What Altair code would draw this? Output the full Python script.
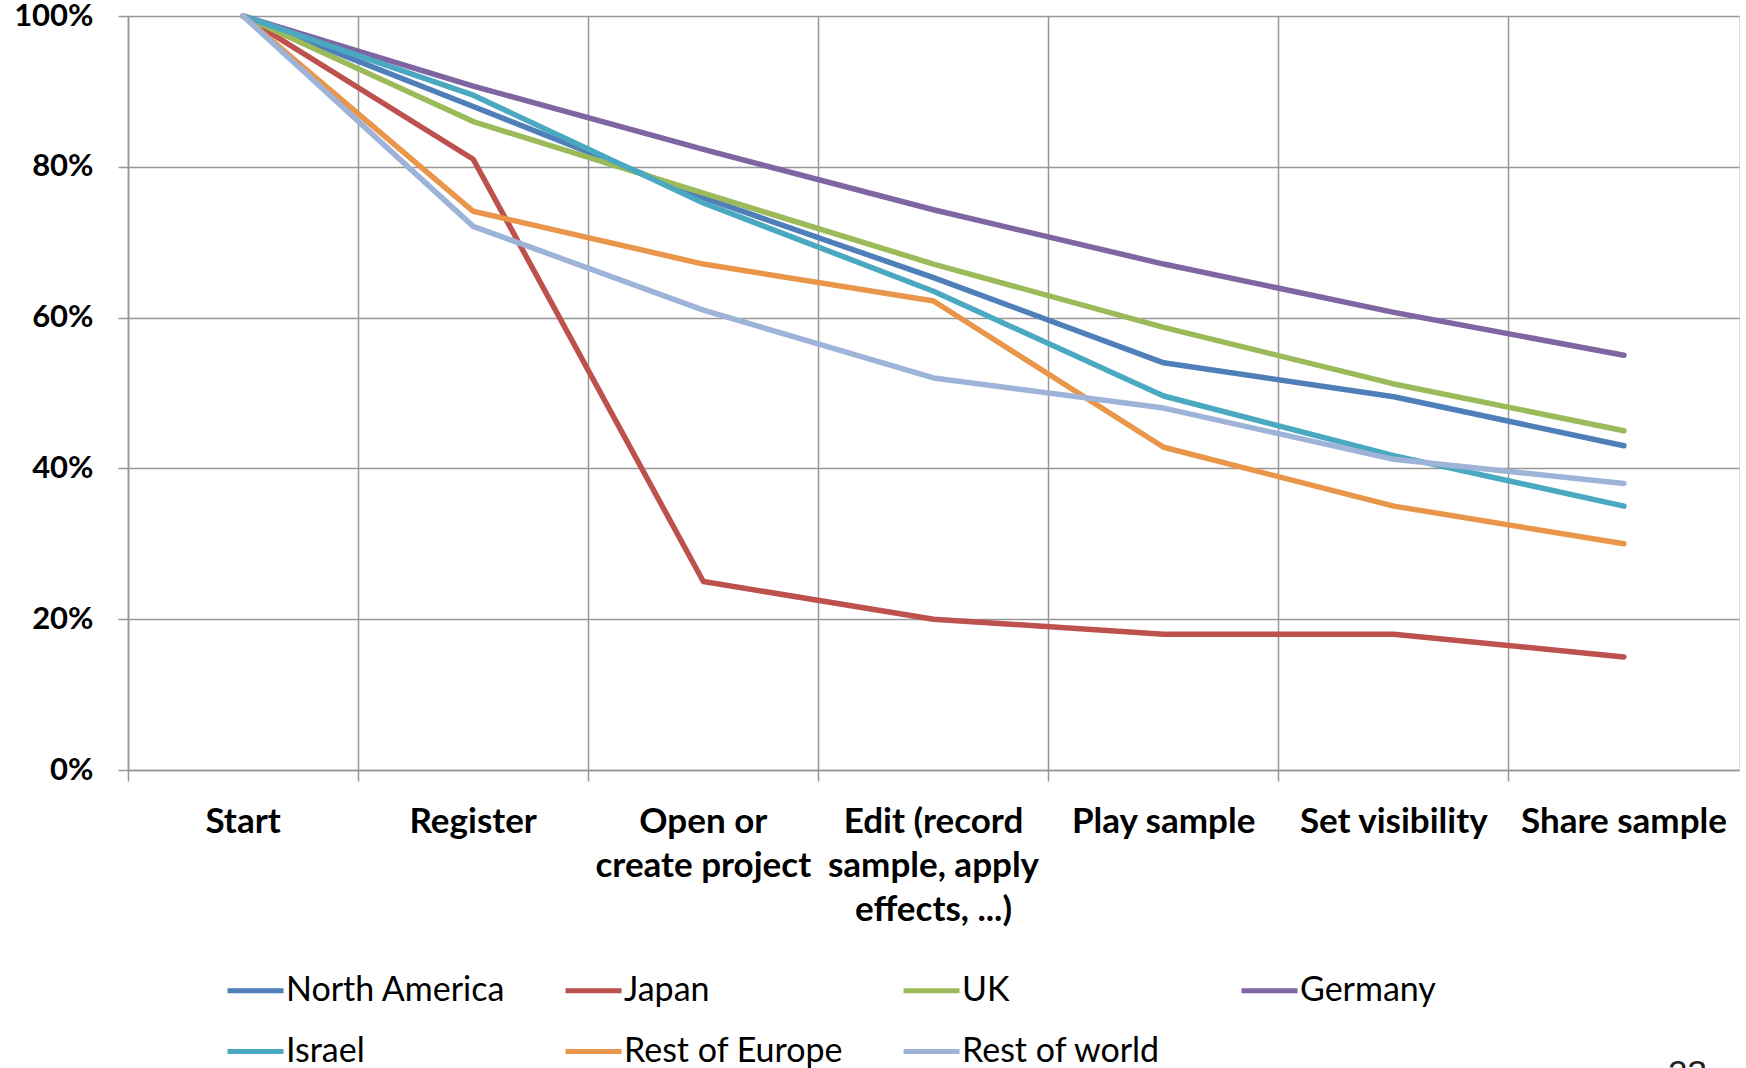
import altair as alt
import pandas as pd

# Funnel steps (x axis) and how each label wraps
steps = [
    "Start",
    "Register",
    "Open or create project",
    "Edit (record sample, apply effects, ...)",
    "Play sample",
    "Set visibility",
    "Share sample",
]
step_lines = [
    ["Start"],
    ["Register"],
    ["Open or", "create project"],
    ["Edit (record", "sample, apply", "effects, ...)"],
    ["Play sample"],
    ["Set visibility"],
    ["Share sample"],
]

# Share of users still in the funnel at each step (%)
north_america = [100, 88.0, 75.9, 65.3, 54.0, 49.5, 43.0]
japan = [100, 81.0, 25.0, 20.0, 18.0, 18.0, 15.0]
uk = [100, 86.0, 76.5, 67.1, 58.7, 51.2, 45.0]
germany = [100, 90.7, 82.3, 74.3, 67.1, 60.7, 55.0]
israel = [100, 89.5, 75.2, 63.5, 49.6, 41.7, 35.0]
rest_of_europe = [100, 74.1, 67.1, 62.2, 42.8, 35.0, 30.0]
rest_of_world = [100, 72.1, 61.0, 52.0, 48.0, 41.2, 38.0]

series_names = ["North America", "Japan", "UK", "Germany",
                "Israel", "Rest of Europe", "Rest of world"]
series_values = [north_america, japan, uk, germany,
                 israel, rest_of_europe, rest_of_world]
series_colors = ["#4E7FB9", "#BC514E", "#9BBA59", "#7F65A1",
                 "#4AA8C1", "#E9954A", "#9EB3D8"]

rows = []
for order, (name, vals) in enumerate(zip(series_names, series_values)):
    for step, v in zip(steps, vals):
        rows.append({"region": name, "step": step, "share": v / 100, "order": order})
df = pd.DataFrame(rows)

# Axis label expression that breaks long step names onto several lines
label_expr = ""
for step, lines in zip(steps, step_lines):
    arr = "[" + ",".join("'" + l + "'" for l in lines) + "]"
    label_expr += f"datum.value == '{step}' ? {arr} : "
label_expr += "datum.label"

GRID = "#979797"
FONT = "Lato"

lines_chart = alt.Chart(df).mark_line(
    strokeWidth=5.5, strokeCap="round", strokeJoin="round"
).encode(
    x=alt.X(
        "step:N",
        sort=steps,
        scale=alt.Scale(type="band", paddingInner=0, paddingOuter=0),
        axis=alt.Axis(
            title=None,
            labelAngle=0,
            labelExpr=label_expr,
            labelFont=FONT,
            labelFontWeight="bold",
            labelFontSize=35,
            labelLineHeight=44,
            labelColor="#000000",
            labelPadding=23,
            labelLimit=400,
            bandPosition=0,
            grid=True,
            gridColor=GRID,
            gridWidth=1.5,
            tickColor=GRID,
            tickWidth=1.5,
            tickSize=11,
            domainColor=GRID,
            domainWidth=1.5,
        ),
    ),
    y=alt.Y(
        "share:Q",
        scale=alt.Scale(domain=[0, 1], nice=False),
        axis=alt.Axis(
            title=None,
            values=[0, 0.2, 0.4, 0.6, 0.8, 1.0],
            format=".0%",
            labelFont=FONT,
            labelFontWeight="bold",
            labelFontSize=31,
            labelColor="#000000",
            labelPadding=25,
            grid=True,
            gridColor=GRID,
            gridWidth=1.5,
            tickColor=GRID,
            tickWidth=1.5,
            tickSize=10,
            domainColor=GRID,
            domainWidth=1.5,
        ),
    ),
    color=alt.Color(
        "region:N",
        sort=series_names,
        scale=alt.Scale(domain=series_names, range=series_colors),
        legend=alt.Legend(
            title=None,
            orient="none",
            direction="horizontal",
            legendX=97,
            legendY=944,
            columns=4,
            gridAlign="all",
            columnPadding=49,
            rowPadding=13,
            symbolType="stroke",
            symbolSize=3136,
            symbolStrokeWidth=5,
            labelFont=FONT,
            labelFontSize=34,
            labelColor="#000000",
            labelOffset=0,
            labelLimit=400,
        ),
    ),
    order=alt.Order("order:Q"),
)

# Slide number in the bottom-right corner
page_number = alt.Chart(pd.DataFrame({"num": ["23"]})).mark_text(
    font="Liberation Sans", fontSize=35, align="left", baseline="top", color="#222222"
).encode(text="num:N", x=alt.value(1540), y=alt.value(1041))

chart = alt.layer(lines_chart, page_number).properties(
    width=1611,
    height=754,
    padding={"left": 128, "top": 16, "right": 7, "bottom": 298},
    autosize=alt.AutoSizeParams(type="none"),
).configure_view(
    stroke=GRID, strokeWidth=1.5
).configure(background="#ffffff")

chart.save("out.html", embed_options={"renderer": "svg", "actions": False})
